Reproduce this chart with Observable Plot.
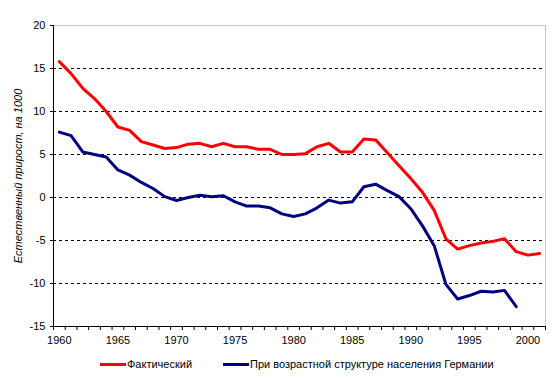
<!DOCTYPE html>
<html>
<head>
<meta charset="utf-8">
<script src="https://cdn.jsdelivr.net/npm/d3@7"></script>
<script src="https://cdn.jsdelivr.net/npm/@observablehq/plot@0.6"></script>
<style>
  body { margin: 0; background: #fff; font-family: "Liberation Sans", Arial, sans-serif; }
  #chart { width: 560px; }
  .legend { position: relative; height: 27px; font-size: 11px; color: #000; }
  .item { position: absolute; top: 0; height: 24px; line-height: 24px; white-space: nowrap; display: flex; align-items: center; }
  .sw { display: inline-block; width: 26px; height: 3px; margin-right: 1px; }
</style>
</head>
<body>
<div id="chart"></div>
<script>
// ---- data ----
const years = d3.range(1960, 2002);
const seriesNames = ["Фактический", "При возрастной структуре населения Германии"];
const seriesColors = ["#ff0000", "#000080"];
const actual = [15.8, 14.4, 12.7, 11.5, 10.0, 8.2, 7.8, 6.5, 6.1, 5.7,
                5.8, 6.2, 6.3, 5.9, 6.3, 5.9, 5.9, 5.6, 5.6, 5.0,
                5.0, 5.1, 5.9, 6.3, 5.3, 5.3, 6.8, 6.7, 5.2, 3.7,
                2.2, 0.6, -1.5, -4.8, -6.0, -5.6, -5.3, -5.1, -4.8, -6.3,
                -6.7, -6.5];
const germanStructure = [7.6, 7.2, 5.3, 5.0, 4.7, 3.2, 2.6, 1.75, 1.05, 0.1,
                -0.35, 0.0, 0.25, 0.1, 0.2, -0.5, -1.0, -1.0, -1.2, -1.9,
                -2.2, -1.9, -1.2, -0.3, -0.65, -0.5, 1.25, 1.55, 0.8, 0.1,
                -1.3, -3.3, -5.6, -10.1, -11.8, -11.4, -10.9, -11.0, -10.8, -12.7];
const yTicks = [-15, -10, -5, 0, 5, 10, 15, 20];
const gridValues = [-10, -5, 0, 5, 10, 15];
const xLabelYears = [1960, 1965, 1970, 1975, 1980, 1985, 1990, 1995, 2000];
const yLabel = "Естественный прирост, на 1000";

const rows = [];
actual.forEach((v, i) => rows.push({year: years[i], value: v, s: seriesNames[0]}));
germanStructure.forEach((v, i) => rows.push({year: years[i], value: v, s: seriesNames[1]}));

const x0 = years[0] - 0.5, x1 = years[years.length - 1] + 0.5;
const boundaries = d3.range(x0, x1 + 0.01, 1);

const plot = Plot.plot({
  width: 560,
  height: 352,
  marginLeft: 53,
  marginRight: 15,
  marginTop: 25,
  marginBottom: 26,
  style: {fontFamily: "Liberation Sans, Arial, sans-serif", fontSize: "11px", color: "#000", background: "#fff"},
  x: {domain: [x0, x1]},
  y: {domain: [yTicks[0], yTicks[yTicks.length - 1]]},
  color: {domain: seriesNames, range: seriesColors},
  marks: [
    Plot.ruleY(gridValues, {stroke: "#000", strokeDasharray: "3,3", strokeWidth: 1}),
    Plot.ruleY([yTicks[yTicks.length - 1]], {stroke: "#c8c8c8"}),
    Plot.ruleX([x1], {stroke: "#c8c8c8"}),
    Plot.ruleX([x0], {stroke: "#000"}),
    Plot.ruleY([yTicks[0]], {stroke: "#000"}),
    Plot.axisY({ticks: yTicks, tickSize: 3, tickPadding: 5, label: null, tickFormat: d => String(d)}),
    Plot.axisX({ticks: boundaries, tickSize: 4, tickFormat: () => "", label: null}),
    Plot.axisX({ticks: xLabelYears, tickSize: 0, tickPadding: 10, tickFormat: d => String(d), label: null}),
    Plot.text([yLabel], {frameAnchor: "left", textAnchor: "middle", rotate: -90, dx: -35, fontStyle: "italic", fontSize: 11, fill: "#000"}),
    Plot.line(rows, {x: "year", y: "value", z: "s", stroke: "s", strokeWidth: 3, strokeLinejoin: "round"})
  ]
});
document.getElementById("chart").appendChild(plot);

// legend
const legend = document.createElement("div");
legend.className = "legend";
const lefts = [100, 223];
seriesNames.forEach((name, i) => {
  const item = document.createElement("div");
  item.className = "item";
  item.style.left = lefts[i] + "px";
  const sw = document.createElement("span");
  sw.className = "sw";
  sw.style.background = seriesColors[i];
  item.appendChild(sw);
  item.appendChild(document.createTextNode(name));
  legend.appendChild(item);
});
document.getElementById("chart").appendChild(legend);
</script>
</body>
</html>
